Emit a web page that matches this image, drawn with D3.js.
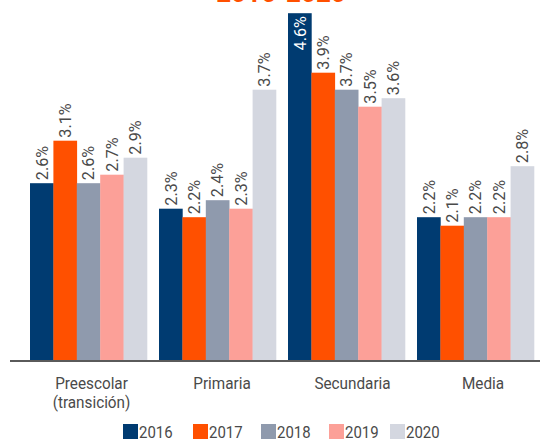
<!DOCTYPE html>
<meta charset="utf-8">
<html>
<head>
<title>Chart</title>
<style>
  body { margin: 0; background: #fff; }
  text { font-family: "Roboto", sans-serif; }
</style>
</head>
<body>
<script src="https://cdn.jsdelivr.net/npm/d3@7/dist/d3.min.js"></script>
<script>

var categories = [["Preescolar", "(transición)"], ["Primaria"], ["Secundaria"], ["Media"]];
var years = ["2016", "2017", "2018", "2019", "2020"];
var colors = ["#003b71", "#ff5000", "#8f9aad", "#fca098", "#d4d7e0"];
// one array per year, values in %
var v2016 = [2.6, 2.3, 4.6, 2.2];
var v2017 = [3.1, 2.2, 3.9, 2.1];
var v2018 = [2.6, 2.4, 3.7, 2.2];
var v2019 = [2.7, 2.3, 3.5, 2.2];
var v2020 = [2.9, 3.7, 3.6, 2.8];
var series = [v2016, v2017, v2018, v2019, v2020];

var width = 540,
    height = 439;

var svg = d3.select("body").append("svg")
    .attr("width", width)
    .attr("height", height);

// title, mostly above the visible area
svg.append("text")
    .attr("x", 281)
    .attr("y", 1.5)
    .attr("text-anchor", "middle")
    .style("font-weight", "bold")
    .style("font-size", "26px")
    .style("fill", "#ff5000")
    .text("2016-2020");

var x = d3.scaleBand()
    .domain(d3.range(categories.length))
    .range([24, 540])
    .paddingInner(12 / 129)
    .paddingOuter(6 / 129);

var xi = d3.scaleBand()
    .domain(d3.range(years.length))
    .range([0, x.bandwidth()]);

// labels sit a bit wider apart than the bar groups
var xl = d3.scalePoint()
    .domain(d3.range(categories.length))
    .range([91.5, 483]);

var y = d3.scaleLinear()
    .domain([0.52, 5])
    .range([360, 360 - 4.48 * 85]);

var data = [];
series.forEach(function(s, j) {
  s.forEach(function(v, i) {
    data.push({cat: i, yr: j, value: v});
  });
});

var bars = svg.append("g");

bars.selectAll("rect")
    .data(data)
    .enter().append("rect")
    .attr("x", function(d) { return x(d.cat) + xi(d.yr); })
    .attr("width", xi.bandwidth() + 0.3)
    .attr("y", function(d) { return y(d.value); })
    .attr("height", function(d) { return y(0.52) - y(d.value); })
    .style("fill", function(d) { return colors[d.yr]; });

bars.selectAll("text")
    .data(data)
    .enter().append("text")
    .attr("transform", function(d) {
        var cx = x(d.cat) + xi(d.yr) + xi.bandwidth() / 2;
        var inside = y(d.value) < 40;
        var ty = inside ? y(d.value) + 3 : y(d.value) - 3;
        return "translate(" + cx + "," + ty + ") rotate(-90) scale(0.95,1)";
    })
    .attr("dy", "0.35em")
    .attr("text-anchor", function(d) { return y(d.value) < 40 ? "end" : "start"; })
    .style("font-size", "17px")
    .style("fill", function(d) { return y(d.value) < 40 ? "#fff" : "#4a4a4a"; })
    .text(function(d) { return d.value.toFixed(1) + "%"; });

// baseline
svg.append("line")
    .attr("x1", 10)
    .attr("x2", 540)
    .attr("y1", 361)
    .attr("y2", 361)
    .style("stroke", "#5a5a5a")
    .style("stroke-width", 2);

// category labels
var cat = svg.append("g").selectAll("text")
    .data(categories)
    .enter().append("text")
    .attr("transform", function(d, i) { return "translate(" + xl(i) + ",389) scale(0.9,1)"; })
    .attr("text-anchor", "middle")
    .style("font-size", "17px")
    .style("fill", "#4a4a4a");

cat.selectAll("tspan")
    .data(function(d) { return d; })
    .enter().append("tspan")
    .attr("x", 0)
    .attr("dy", function(d, i) { return i ? 19 : 0; })
    .text(function(d) { return d; });

// legend
var legendX = [123, 193, 261, 329, 390];
var legend = svg.append("g").selectAll("g")
    .data(years)
    .enter().append("g")
    .attr("transform", function(d, i) { return "translate(" + legendX[i] + ",424)"; });

legend.append("rect")
    .attr("width", 15)
    .attr("height", 15)
    .style("fill", function(d, i) { return colors[i]; });

legend.append("text")
    .attr("transform", "translate(16,13.5) scale(0.88,1)")
    .style("font-size", "17px")
    .style("fill", "#4a4a4a")
    .text(function(d) { return d; });

</script>
</body>
</html>
